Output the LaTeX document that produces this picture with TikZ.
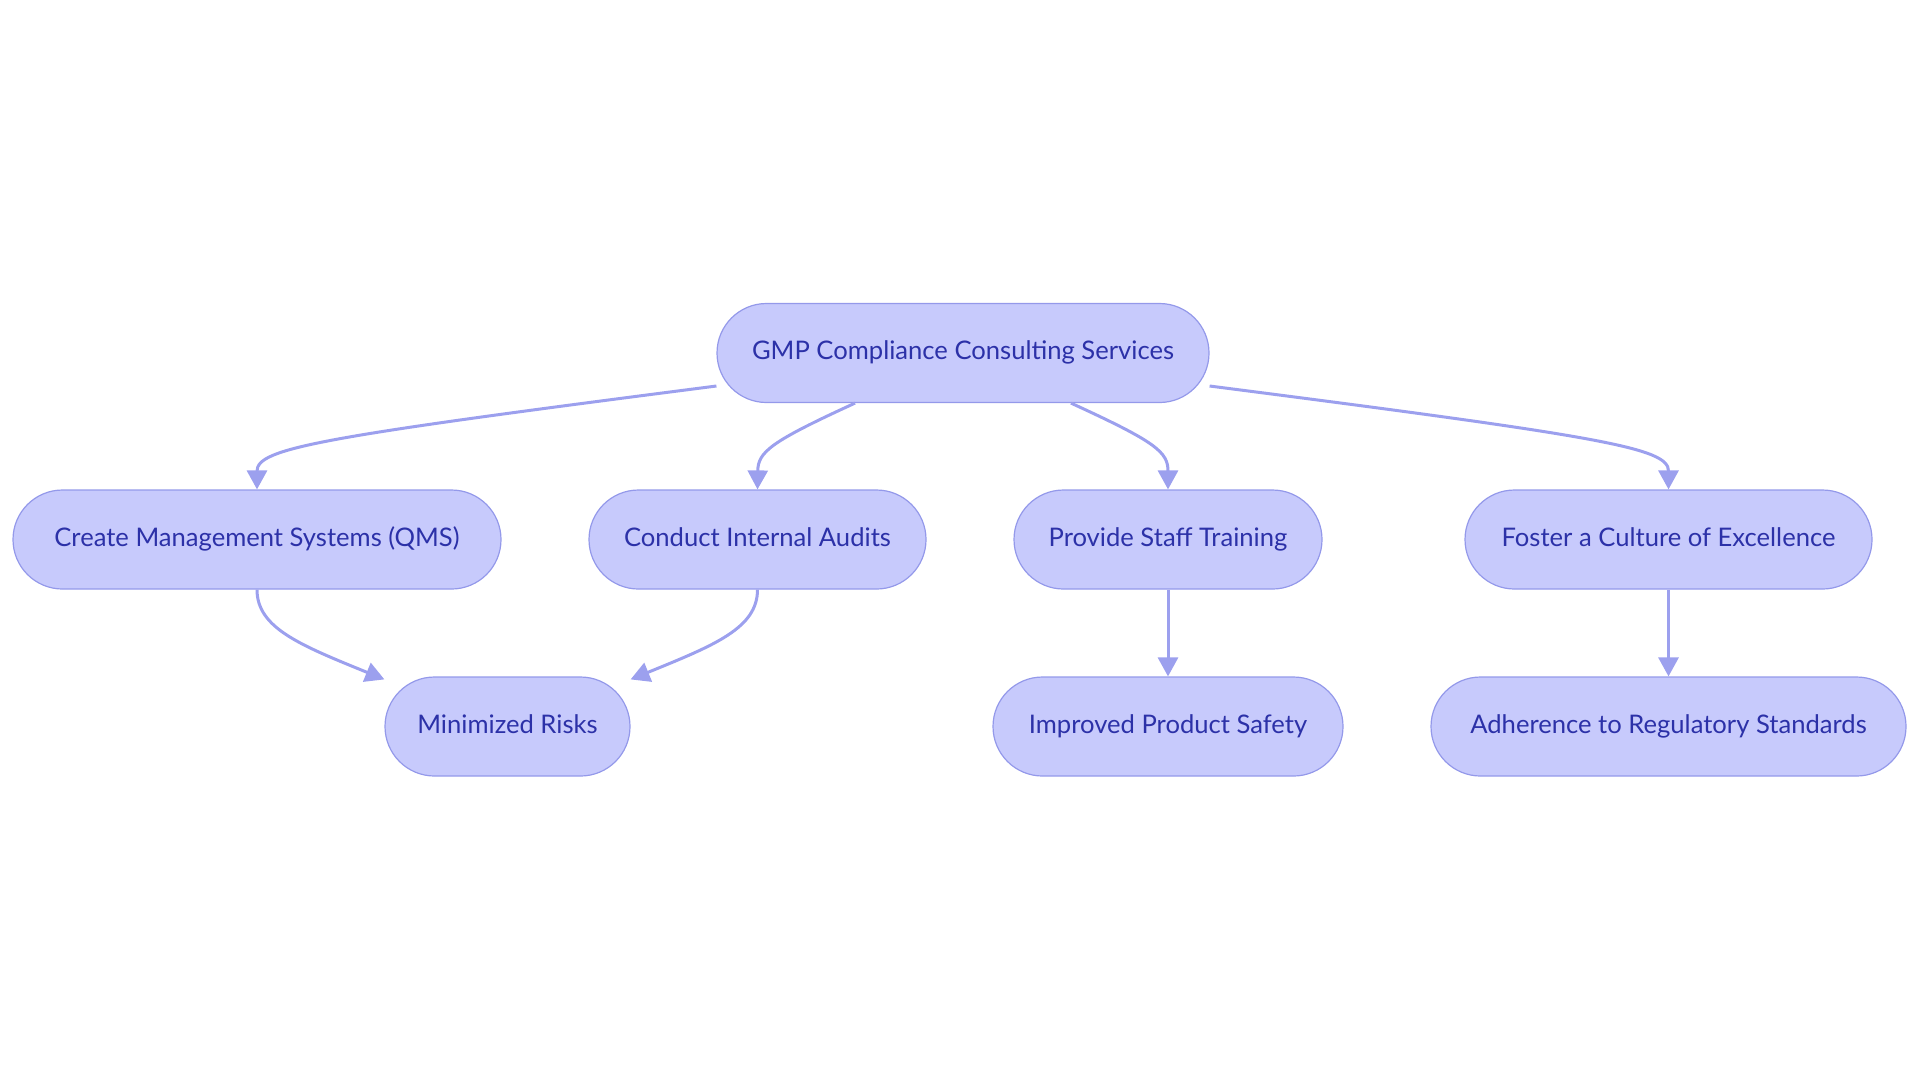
\documentclass[tikz,border=0pt]{standalone}
\usepackage{fontspec}
\setmainfont{Lato}
\usetikzlibrary{arrows.meta}
\definecolor{nodefill}{HTML}{C7CAFC}
\definecolor{nodeborder}{HTML}{9499EA}
\definecolor{nodetext}{HTML}{2C31A8}
\definecolor{edgecol}{HTML}{9CA0EE}
\begin{document}
\begin{tikzpicture}[x=0.5pt,y=-0.5pt,
  pill/.style={draw=nodeborder, line width=0.6pt, fill=nodefill, text=nodetext,
    rounded corners=24.75pt, minimum height=49.5pt, inner sep=0pt,
    text height=9.4pt, text depth=2.6pt,
    font=\fontsize{12.8}{15}\selectfont},
  link/.style={draw=edgecol, line width=1.5pt,
    -{Triangle[length=9.5pt,width=10pt]}}]
\useasboundingbox (0,0) rectangle (1920,1083);
\node[pill, minimum width=246pt] (gmp) at (963,353) {GMP Compliance Consulting Services};
\node[pill, minimum width=244pt] (qms) at (257,539.5) {Create Management Systems (QMS)};
\node[pill, minimum width=168.5pt] (aud) at (757.5,539.5) {Conduct Internal Audits};
\node[pill, minimum width=154pt] (trn) at (1168,539.5) {Provide Staff Training};
\node[pill, minimum width=203.5pt] (exc) at (1668.5,539.5) {Foster a Culture of Excellence};
\node[pill, minimum width=122.5pt] (risk) at (507.5,726.5) {Minimized Risks};
\node[pill, minimum width=175pt] (safe) at (1168,726.5) {Improved Product Safety};
\node[pill, minimum width=237.5pt] (reg) at (1668.5,726.5) {Adherence to Regulatory Standards};

\draw[link] ([yshift=-16.5pt]gmp.west) .. controls (320,437) and (257,448) .. (qms.north);
\draw[link] ([xshift=-54pt]gmp.south) .. controls (770,442) and (758,452) .. (aud.north);
\draw[link] ([xshift=54pt]gmp.south) .. controls (1156,442) and (1168,452) .. (trn.north);
\draw[link] ([yshift=-16.5pt]gmp.east) .. controls (1606,437) and (1668.5,448) .. (exc.north);
\draw[link] (qms.south) .. controls (257,628) and (300,645) .. ([yshift=-1.5pt]risk.north west);
\draw[link] (aud.south) .. controls (757.5,628) and (715,645) .. ([yshift=-1.5pt]risk.north east);
\draw[link] (trn.south) -- (safe.north);
\draw[link] (exc.south) -- (reg.north);
\end{tikzpicture}
\end{document}
